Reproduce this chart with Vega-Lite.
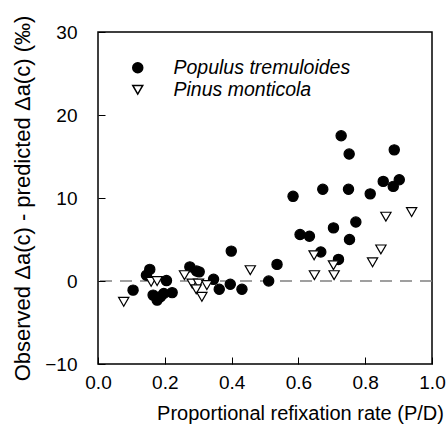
{
  "$schema": "https://vega.github.io/schema/vega-lite/v6.json",
  "width": 334,
  "height": 332,
  "autosize": "none",
  "padding": {"left": 98, "top": 32, "right": 16, "bottom": 77},
  "config": {
    "font": "Liberation Sans",
    "view": {"stroke": "black", "strokeWidth": 1.5}
  },
  "layer": [
    {
      "data": {"values": [{"z": 0}]},
      "mark": {"type": "rule", "color": "#808080", "strokeWidth": 1.5, "strokeDash": [12, 8]},
      "encoding": {
        "y": {"field": "z", "type": "quantitative"}
      }
    },
    {
      "data": {"values": [
        {"s": "Populus tremuloides", "x": 0.105, "y": -1.1},
        {"s": "Populus tremuloides", "x": 0.155, "y": 1.4},
        {"s": "Populus tremuloides", "x": 0.145, "y": 0.7},
        {"s": "Populus tremuloides", "x": 0.205, "y": 0.05},
        {"s": "Populus tremuloides", "x": 0.165, "y": -1.7},
        {"s": "Populus tremuloides", "x": 0.177, "y": -2.3},
        {"s": "Populus tremuloides", "x": 0.187, "y": -1.9},
        {"s": "Populus tremuloides", "x": 0.197, "y": -1.5},
        {"s": "Populus tremuloides", "x": 0.222, "y": -1.4},
        {"s": "Populus tremuloides", "x": 0.275, "y": 1.7},
        {"s": "Populus tremuloides", "x": 0.295, "y": 1.2},
        {"s": "Populus tremuloides", "x": 0.303, "y": 1.1},
        {"s": "Populus tremuloides", "x": 0.346, "y": 0.2},
        {"s": "Populus tremuloides", "x": 0.363, "y": -1.0},
        {"s": "Populus tremuloides", "x": 0.399, "y": 3.6},
        {"s": "Populus tremuloides", "x": 0.396, "y": -0.4},
        {"s": "Populus tremuloides", "x": 0.431, "y": -1.0},
        {"s": "Populus tremuloides", "x": 0.511, "y": 0.0},
        {"s": "Populus tremuloides", "x": 0.536, "y": 2.0},
        {"s": "Populus tremuloides", "x": 0.584, "y": 10.2},
        {"s": "Populus tremuloides", "x": 0.605, "y": 5.6},
        {"s": "Populus tremuloides", "x": 0.633, "y": 5.4},
        {"s": "Populus tremuloides", "x": 0.667, "y": 3.5},
        {"s": "Populus tremuloides", "x": 0.673, "y": 11.05},
        {"s": "Populus tremuloides", "x": 0.705, "y": 6.4},
        {"s": "Populus tremuloides", "x": 0.72, "y": 2.6},
        {"s": "Populus tremuloides", "x": 0.728, "y": 17.5},
        {"s": "Populus tremuloides", "x": 0.752, "y": 15.3},
        {"s": "Populus tremuloides", "x": 0.75, "y": 11.05},
        {"s": "Populus tremuloides", "x": 0.753, "y": 5.0},
        {"s": "Populus tremuloides", "x": 0.772, "y": 7.1},
        {"s": "Populus tremuloides", "x": 0.815, "y": 10.5},
        {"s": "Populus tremuloides", "x": 0.854, "y": 12.0},
        {"s": "Populus tremuloides", "x": 0.884, "y": 11.4},
        {"s": "Populus tremuloides", "x": 0.887, "y": 15.8},
        {"s": "Populus tremuloides", "x": 0.902, "y": 12.2},
        {"s": "Pinus monticola", "x": 0.077, "y": -2.5},
        {"s": "Pinus monticola", "x": 0.159, "y": -0.1},
        {"s": "Pinus monticola", "x": 0.177, "y": 0.0},
        {"s": "Pinus monticola", "x": 0.259, "y": 0.7},
        {"s": "Pinus monticola", "x": 0.282, "y": -0.3},
        {"s": "Pinus monticola", "x": 0.301, "y": -0.3},
        {"s": "Pinus monticola", "x": 0.294, "y": -1.0},
        {"s": "Pinus monticola", "x": 0.311, "y": -1.9},
        {"s": "Pinus monticola", "x": 0.326, "y": -0.5},
        {"s": "Pinus monticola", "x": 0.456, "y": 1.3},
        {"s": "Pinus monticola", "x": 0.647, "y": 3.1},
        {"s": "Pinus monticola", "x": 0.648, "y": 0.7},
        {"s": "Pinus monticola", "x": 0.705, "y": 1.9},
        {"s": "Pinus monticola", "x": 0.707, "y": 0.7},
        {"s": "Pinus monticola", "x": 0.822, "y": 2.25},
        {"s": "Pinus monticola", "x": 0.847, "y": 3.8},
        {"s": "Pinus monticola", "x": 0.862, "y": 7.75},
        {"s": "Pinus monticola", "x": 0.939, "y": 8.3}
      ]},
      "mark": {"type": "point", "filled": true, "stroke": "black", "strokeWidth": 1.2, "opacity": 1, "size": 105},
      "encoding": {
        "x": {"field": "x", "type": "quantitative", "scale": {"domain": [0, 1], "nice": false},
              "axis": {"values": [0, 0.2, 0.4, 0.6, 0.8, 1.0], "format": ".1f", "grid": true, "gridOpacity": 0, "domain": false, "zindex": 1,
                       "tickColor": "#000000", "tickSize": -7, "labelFlush": false, "labelPadding": 16,
                       "labelFontSize": 19, "labelColor": "black",
                       "title": "Proportional refixation rate (P/D)", "titleFontSize": 20, "titleFontWeight": "normal", "titleColor": "black",
                       "titlePadding": 11, "titleX": 202, "titleAlign": "center"}},
        "y": {"field": "y", "type": "quantitative", "scale": {"domain": [-10, 30], "nice": false, "zero": false},
              "axis": {"values": [-10, 0, 10, 20, 30], "grid": true, "gridOpacity": 0, "domain": false, "zindex": 1,
                       "tickColor": "#000000", "tickSize": -7, "labelPadding": 28,
                       "labelFontSize": 19, "labelColor": "black",
                       "title": "Observed Δa(c) - predicted Δa(c) (‰)", "titleFontSize": 22, "titleFontWeight": "normal", "titleColor": "black",
                       "titlePadding": 10}},
        "shape": {"field": "s", "type": "nominal",
                  "scale": {"domain": ["Populus tremuloides", "Pinus monticola"], "range": ["circle", "triangle-down"]},
                  "legend": {"title": null, "orient": "none", "legendX": 16, "legendY": 12, "padding": 14,
                             "labelFontSize": 19.5, "labelFontStyle": "italic", "labelColor": "black", "labelLimit": 400,
                             "labelOffset": 26, "rowPadding": 1}},
        "fill": {"field": "s", "type": "nominal",
                 "scale": {"domain": ["Populus tremuloides", "Pinus monticola"], "range": ["black", "white"]},
                 "legend": {"title": null, "orient": "none", "legendX": 16, "legendY": 12, "padding": 14,
                            "labelFontSize": 19.5, "labelFontStyle": "italic", "labelColor": "black", "labelLimit": 400,
                            "labelOffset": 26, "rowPadding": 1}}
      }
    }
  ]
}
